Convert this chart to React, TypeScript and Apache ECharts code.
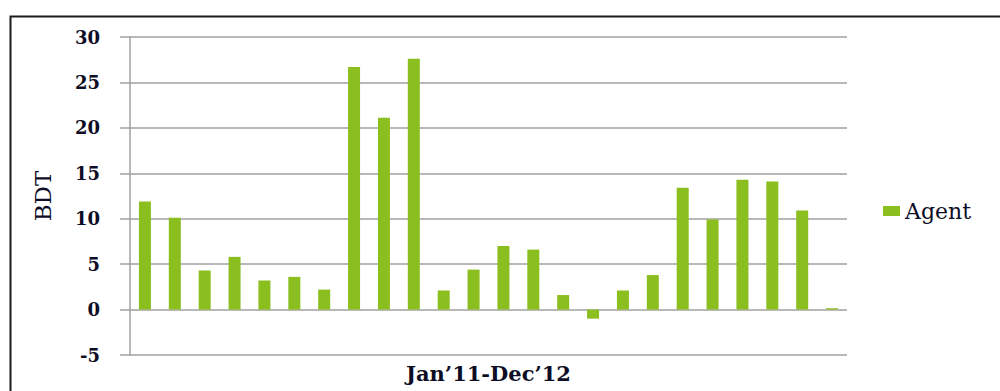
import React, { useEffect, useRef } from "react";
import * as echarts from "echarts";

// Monthly values, Jan 2011 through Dec 2012
const months: string[] = [
  "Jan’11", "Feb’11", "Mar’11", "Apr’11", "May’11", "Jun’11",
  "Jul’11", "Aug’11", "Sep’11", "Oct’11", "Nov’11", "Dec’11",
  "Jan’12", "Feb’12", "Mar’12", "Apr’12", "May’12", "Jun’12",
  "Jul’12", "Aug’12", "Sep’12", "Oct’12", "Nov’12", "Dec’12",
];

const agentValues: number[] = [
  11.9, 10.1, 4.3, 5.8, 3.2, 3.6, 2.2, 26.7, 21.1, 27.6, 2.1, 4.4,
  7.0, 6.6, 1.6, -1.0, 2.1, 3.8, 13.4, 9.9, 14.3, 14.1, 10.9, 0.15,
];

const seriesName = "Agent";
const yAxisTitle = "BDT";
const xAxisTitle = "Jan’11-Dec’12";
const yMin = -5;
const yMax = 30;
const yStep = 5;

const FONT = "'DejaVu Serif', 'Liberation Serif', serif";
const TEXT_COLOR = "#0d0d26";
const BAR_COLOR = "#8bbe1f";
const GRID_COLOR = "#a0a0a0";

export default function App() {
  const ref = useRef<HTMLDivElement>(null);

  useEffect(() => {
    if (!ref.current) return;
    const chart = echarts.init(ref.current, undefined, { renderer: "svg" });
    chart.setOption({
      animation: false,
      backgroundColor: "#ffffff",
      textStyle: { fontFamily: FONT, color: TEXT_COLOR },
      graphic: [
        {
          type: "rect",
          left: 8,
          top: 14,
          shape: { x: 0, y: 0, width: 1100, height: 500 },
          style: { fill: "none", stroke: "#1a1a1a", lineWidth: 2 },
          silent: true,
        },
      ],
      grid: {
        left: 130,
        right: 153,
        top: 37,
        bottom: 36,
        containLabel: false,
        outerBoundsMode: "none",
      },
      legend: {
        data: [seriesName],
        left: 878,
        top: 195,
        orient: "vertical",
        icon: "rect",
        itemWidth: 17,
        itemHeight: 10,
        itemGap: 8,
        textStyle: { fontFamily: FONT, fontSize: 22, color: TEXT_COLOR },
      },
      xAxis: {
        type: "category",
        data: months,
        axisLine: { show: false },
        axisTick: { show: false },
        axisLabel: { show: false },
        splitLine: { show: false },
        name: xAxisTitle,
        nameLocation: "middle",
        nameGap: 8,
        nameMoveOverlap: false,
        nameTextStyle: {
          fontFamily: FONT,
          fontSize: 21,
          fontWeight: "bold",
          color: TEXT_COLOR,
          verticalAlign: "top",
        },
      },
      yAxis: {
        type: "value",
        min: yMin,
        max: yMax,
        interval: yStep,
        axisLine: { show: true, lineStyle: { color: GRID_COLOR, width: 1.5 } },
        axisTick: {
          show: true,
          inside: false,
          length: 10,
          lineStyle: { color: GRID_COLOR, width: 1.5 },
        },
        splitLine: { show: true, lineStyle: { color: GRID_COLOR, width: 1.5 } },
        axisLabel: {
          margin: 30,
          fontFamily: FONT,
          fontSize: 18,
          fontWeight: "bold",
          color: TEXT_COLOR,
        },
        name: yAxisTitle,
        nameLocation: "middle",
        nameGap: 76,
        nameRotate: 90,
        nameMoveOverlap: false,
        nameTextStyle: { fontFamily: FONT, fontSize: 23, color: TEXT_COLOR },
      },
      series: [
        {
          name: seriesName,
          type: "bar",
          data: agentValues,
          barWidth: 12,
          itemStyle: { color: BAR_COLOR },
        },
      ],
    });
    return () => chart.dispose();
  }, []);

  return (
    <div
      ref={ref}
      style={{ position: "absolute", left: 0, top: 0, width: 1000, height: 391 }}
    />
  );
}
